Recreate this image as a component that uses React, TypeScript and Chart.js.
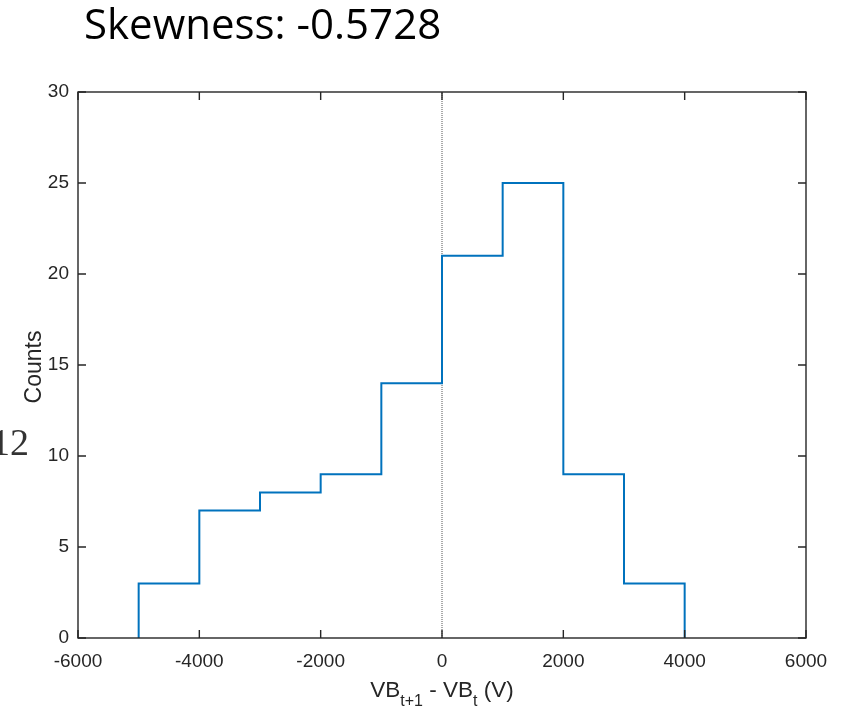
import React, { useEffect, useRef } from "react";
import { Chart, registerables } from "chart.js";

Chart.register(...registerables);

const binEdges = [-5000, -4000, -3000, -2000, -1000, 0, 1000, 2000, 3000, 4000];
const counts = [3, 7, 8, 9, 14, 21, 25, 9, 3];
const xTicks = [-6000, -4000, -2000, 0, 2000, 4000, 6000];
const yTicks = [0, 5, 10, 15, 20, 25, 30];
const titleText = "Skewness: -0.5728";
const sideText = "12";
const yTitle = "Counts";

const AXIS_FONT = '"Liberation Sans", Arial, sans-serif';

const decorPlugin = {
  id: "decor",
  beforeDatasetsDraw(chart: any) {
    const { ctx, chartArea: a } = chart;
    ctx.save();
    ctx.fillStyle = "#ffffff";
    ctx.fillRect(a.left, a.top, a.right - a.left, a.bottom - a.top);
    ctx.restore();
  },
  afterDraw(chart: any) {
    const { ctx, chartArea: a, scales } = chart;
    const xs = scales.x;
    const ys = scales.y;
    ctx.save();
    // box
    ctx.strokeStyle = "#262626";
    ctx.lineWidth = 1.4;
    ctx.strokeRect(a.left, a.top, a.right - a.left, a.bottom - a.top);
    // inward ticks
    const tl = 8;
    ctx.beginPath();
    xTicks.forEach((v) => {
      const px = xs.getPixelForValue(v);
      ctx.moveTo(px, a.bottom);
      ctx.lineTo(px, a.bottom - tl);
      ctx.moveTo(px, a.top);
      ctx.lineTo(px, a.top + tl);
    });
    yTicks.forEach((v) => {
      const py = ys.getPixelForValue(v);
      ctx.moveTo(a.left, py);
      ctx.lineTo(a.left + tl, py);
      ctx.moveTo(a.right, py);
      ctx.lineTo(a.right - tl, py);
    });
    ctx.stroke();

    // y title
    ctx.fillStyle = "#262626";
    ctx.font = `23px ${AXIS_FONT}`;
    ctx.save();
    ctx.translate(41, (a.top + a.bottom) / 2 + 2);
    ctx.rotate(-Math.PI / 2);
    ctx.textAlign = "center";
    ctx.textBaseline = "alphabetic";
    ctx.fillText(yTitle, 0, 0);
    ctx.restore();

    // x title with subscripts
    const parts: [string, boolean][] = [
      ["VB", false],
      ["t+1", true],
      [" - VB", false],
      ["t", true],
      [" (V)", false],
    ];
    const mainF = `22.5px ${AXIS_FONT}`;
    const subF = `16px ${AXIS_FONT}`;
    let total = 0;
    parts.forEach(([t, s]) => {
      ctx.font = s ? subF : mainF;
      total += ctx.measureText(t).width;
    });
    let cx = (a.left + a.right) / 2 - total / 2;
    const base = 697;
    ctx.textAlign = "left";
    ctx.textBaseline = "alphabetic";
    parts.forEach(([t, s]) => {
      ctx.font = s ? subF : mainF;
      ctx.fillText(t, cx, s ? base + 9 : base);
      cx += ctx.measureText(t).width;
    });

    // title
    ctx.fillStyle = "#000000";
    ctx.font = '42px "Open Sans", sans-serif';
    ctx.textAlign = "left";
    ctx.fillText(titleText, 84, 39);

    // side fragment
    ctx.font = '38px "Liberation Serif", serif';
    ctx.textAlign = "right";
    ctx.fillStyle = "#333333";
    ctx.fillText(sideText, 29, 455);
    ctx.restore();
  },
};

export default function App() {
  const ref = useRef<HTMLCanvasElement | null>(null);
  useEffect(() => {
    if (!ref.current) return;
    const pts: { x: number; y: number }[] = [{ x: binEdges[0], y: 0 }];
    counts.forEach((c, i) => pts.push({ x: binEdges[i], y: c }));
    pts.push({ x: binEdges[binEdges.length - 1], y: counts[counts.length - 1] });
    pts.push({ x: binEdges[binEdges.length - 1], y: 0 });

    const chart = new Chart(ref.current, {
      type: "line",
      data: {
        datasets: [
          {
            data: pts,
            borderColor: "#0072BD",
            borderWidth: 2,
            stepped: "before",
            pointRadius: 0,
            fill: false,
            order: 1,
          },
          {
            data: [
              { x: 0, y: 0 },
              { x: 0, y: 30 },
            ],
            borderColor: "#555555",
            borderWidth: 1,
            borderDash: [1, 1],
            pointRadius: 0,
            fill: false,
            order: 2,
          },
        ],
      },
      options: {
        animation: false,
        responsive: true,
        maintainAspectRatio: false,
        layout: { padding: { left: 0, top: 92, right: 36, bottom: 0 } },
        plugins: { legend: { display: false }, tooltip: { enabled: false } },
        scales: {
          x: {
            type: "linear",
            min: -6000,
            max: 6000,
            afterBuildTicks: (s: any) => {
              s.ticks = xTicks.map((v) => ({ value: v }));
            },
            afterFit: (s: any) => {
              s.height = 68;
            },
            grid: { display: false, drawTicks: false },
            border: { display: false },
            ticks: {
              padding: 12,
              color: "#262626",
              font: { family: AXIS_FONT, size: 19 },
              maxRotation: 0,
              autoSkip: false,
              callback: (v: any) => String(v),
            },
          },
          y: {
            type: "linear",
            min: 0,
            max: 30,
            afterBuildTicks: (s: any) => {
              s.ticks = yTicks.map((v) => ({ value: v }));
            },
            afterFit: (s: any) => {
              s.width = 78;
            },
            grid: { display: false, drawTicks: false },
            border: { display: false },
            ticks: {
              padding: 9,
              color: "#262626",
              font: { family: AXIS_FONT, size: 19 },
              autoSkip: false,
              callback: (v: any) => String(v),
            },
          },
        },
      },
      plugins: [decorPlugin],
    });
    return () => chart.destroy();
  }, []);

  return (
    <div style={{ position: "fixed", left: 0, top: 0, width: 842, height: 706, background: "#fff" }}>
      <canvas ref={ref} />
    </div>
  );
}
